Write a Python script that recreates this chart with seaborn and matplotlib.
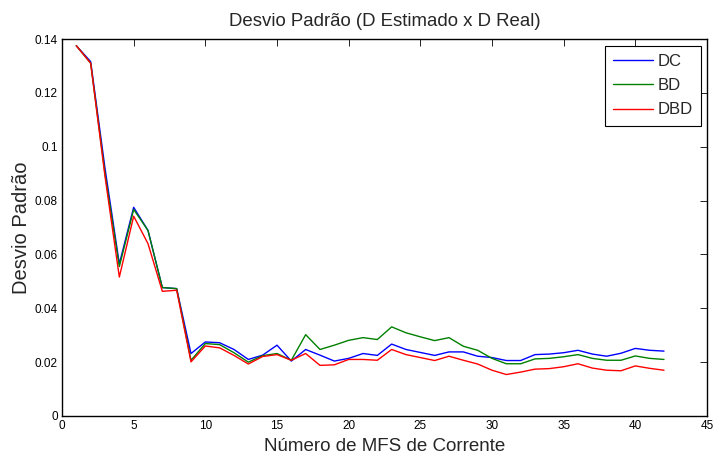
import matplotlib
matplotlib.use("Agg")
import matplotlib.pyplot as plt
import seaborn as sns
import pandas as pd
import numpy as np

# Number of current MFS (x) and standard deviation for each method
n_mfs = list(range(1, 43))

dc = [0.1375, 0.1316, 0.0920, 0.0565, 0.0775, 0.0689, 0.0477, 0.0473, 0.0232, 0.0275,
      0.0272, 0.0247, 0.0210, 0.0226, 0.0263, 0.0204, 0.0247, 0.0226, 0.0204, 0.0214,
      0.0232, 0.0225, 0.0267, 0.0247, 0.0236, 0.0225, 0.0238, 0.0238, 0.0222, 0.0217,
      0.0206, 0.0206, 0.0228, 0.0230, 0.0235, 0.0244, 0.0230, 0.0222, 0.0233, 0.0251,
      0.0244, 0.0241]

bd = [0.1375, 0.1310, 0.0900, 0.0555, 0.0767, 0.0689, 0.0477, 0.0473, 0.0207, 0.0269,
      0.0265, 0.0235, 0.0200, 0.0224, 0.0232, 0.0207, 0.0302, 0.0247, 0.0263, 0.0281,
      0.0291, 0.0284, 0.0331, 0.0309, 0.0294, 0.0280, 0.0291, 0.0259, 0.0244, 0.0214,
      0.0194, 0.0194, 0.0212, 0.0214, 0.0220, 0.0228, 0.0214, 0.0207, 0.0207, 0.0223,
      0.0214, 0.0210]

dbd = [0.1375, 0.1310, 0.0890, 0.0516, 0.0742, 0.0640, 0.0463, 0.0467, 0.0201, 0.0260,
       0.0253, 0.0225, 0.0193, 0.0221, 0.0228, 0.0207, 0.0232, 0.0188, 0.0190, 0.0210,
       0.0210, 0.0207, 0.0247, 0.0228, 0.0217, 0.0206, 0.0222, 0.0207, 0.0193, 0.0170,
       0.0154, 0.0163, 0.0174, 0.0176, 0.0183, 0.0194, 0.0178, 0.0170, 0.0168, 0.0186,
       0.0177, 0.0170]

series_names = ["DC", "BD", "DBD"]
series_colors = ["#0000ff", "#008000", "#ff0000"]

x_ticks = [0, 5, 10, 15, 20, 25, 30, 35, 40, 45]
y_ticks = [0, 0.02, 0.04, 0.06, 0.08, 0.1, 0.12, 0.14]
y_tick_labels = ["0", "0.02", "0.04", "0.06", "0.08", "0.1", "0.12", "0.14"]

df = pd.DataFrame({
    "x": n_mfs * 3,
    "y": dc + bd + dbd,
    "metodo": [series_names[0]] * len(dc) + [series_names[1]] * len(bd) + [series_names[2]] * len(dbd),
})

sns.set_style("white")
plt.rcParams["font.family"] = ["Liberation Sans", "DejaVu Sans"]

fig = plt.figure(figsize=(7.15, 4.58), dpi=100)
ax = fig.add_axes([62 / 715, 1 - 416 / 458, 645 / 715, 377 / 458])

sns.lineplot(data=df, x="x", y="y", hue="metodo", hue_order=series_names,
             palette=series_colors, linewidth=1.0, ax=ax, legend=False)

ax.set_xlim(0, 45)
ax.set_ylim(0, 0.14)
ax.set_xticks(x_ticks)
ax.set_xticklabels([str(t) for t in x_ticks])
ax.set_yticks(y_ticks)
ax.set_yticklabels(y_tick_labels)

ax.tick_params(direction="in", length=5, width=0.6, top=True, right=True,
               labelsize=8.5, colors="black", pad=3)
for side in ["left", "right", "top", "bottom"]:
    ax.spines[side].set_visible(True)
    ax.spines[side].set_color("black")
    ax.spines[side].set_linewidth(1.0)

ax.set_title("Desvio Padrão (D Estimado x D Real)", fontsize=13.4, pad=9)
ax.set_xlabel("Número de MFS de Corrente", fontsize=13.5, labelpad=4)
ax.set_ylabel("Desvio Padrão", fontsize=14.5, labelpad=3)

handles = [plt.Line2D([], [], color=c, linewidth=1.0) for c in series_colors]
leg = ax.legend(handles, series_names, loc="upper right",
                bbox_to_anchor=(701 / 715, 1 - 45.7 / 458), bbox_transform=fig.transFigure,
                fontsize=12, frameon=True, fancybox=False, shadow=False,
                handlelength=2.35, handletextpad=0.3, labelspacing=0.55,
                borderpad=0.5, borderaxespad=0.0)
leg.get_frame().set_edgecolor("black")
leg.get_frame().set_linewidth(0.8)
leg.get_frame().set_alpha(1.0)

fig.savefig("out.png", dpi=100, facecolor="white")
